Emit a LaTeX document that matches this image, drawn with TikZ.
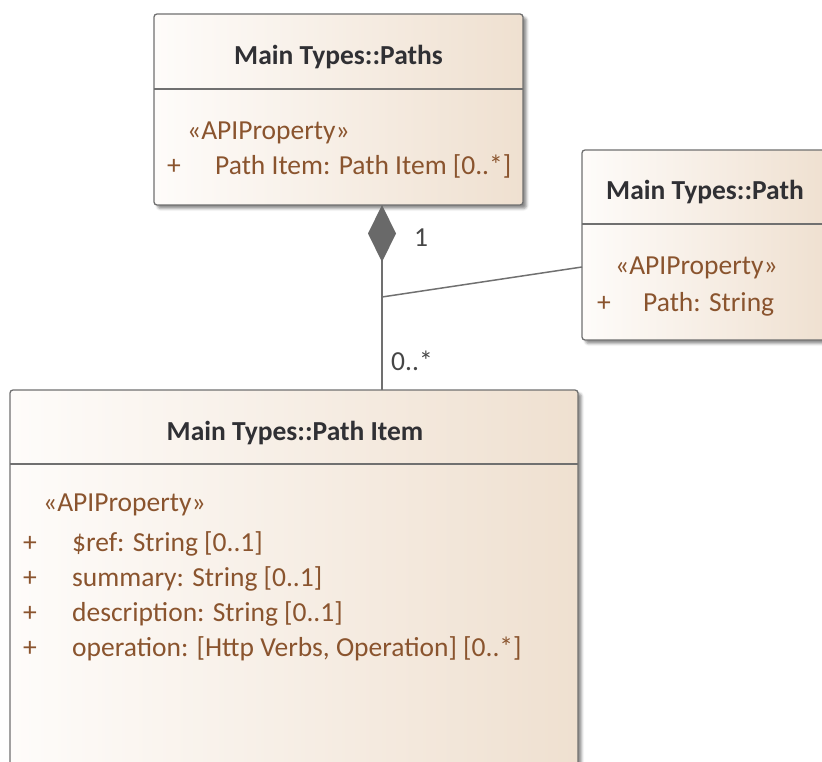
\documentclass[tikz,border=0pt]{standalone}
\usepackage{fontspec}
\setmainfont{Carlito}
\usetikzlibrary{arrows.meta,shadows.blur}

\definecolor{edgec}{RGB}{112,112,112}
\definecolor{fillL}{RGB}{254,252,250}
\definecolor{fillR}{RGB}{239,224,208}
\definecolor{titlec}{RGB}{48,48,52}
\definecolor{attrc}{RGB}{138,84,46}
\definecolor{multc}{RGB}{70,70,70}
\definecolor{diamc}{RGB}{105,105,105}

\tikzset{
  classbox/.style={draw=edgec, line width=1.3pt, rounded corners=3pt,
    left color=fillL, right color=fillR, anchor=north west,
    inner sep=0pt, outer sep=0pt,
    blur shadow={shadow xshift=3.5pt, shadow yshift=-3.5pt,
      shadow blur radius=2.5pt, shadow opacity=45}},
  classtitle/.style={font=\fontsize{27.5}{32}\selectfont\bfseries, text=titlec, inner sep=0pt},
  attr/.style={font=\fontsize{27.5}{32}\selectfont, text=attrc, inner sep=0pt, anchor=base west},
  divider/.style={draw=edgec, line width=1.3pt},
  conn/.style={draw=edgec, line width=1.5pt},
  mult/.style={font=\fontsize{27.5}{32}\selectfont, text=multc, inner sep=0pt}
}

\begin{document}
\begin{tikzpicture}[x=1pt,y=-1pt]
\useasboundingbox (0,0) rectangle (822,762);
\clip (0,0) rectangle (822,762);

% class boxes
\node[classbox, minimum width=369pt, minimum height=191pt] (paths) at (154,14) {};
\node[classbox, minimum width=246pt, minimum height=190pt] (path) at (582,150) {};
\node[classbox, minimum width=568pt, minimum height=385pt] (item) at (10,390) {};

% compartment dividers
\draw[divider] (paths.west |- 0,89) -- (paths.east |- 0,89);
\draw[divider] (path.west |- 0,224) -- (path.east |- 0,224);
\draw[divider] (item.west |- 0,464) -- (item.east |- 0,464);

% Main Types::Paths
\node[classtitle] (pathsT) at (338.5,57) {Main Types::Paths};
\node[attr] (pathsS) at (187,140) {«APIProperty»};
\node[attr] (pathsV1) at (167,175) {+};
\node[attr] (pathsA1) at (215,175) {Path Item: Path Item [0..*]};

% Main Types::Path
\node[classtitle] (pathT) at (705,192) {Main Types::Path};
\node[attr] (pathS) at (615,274) {«APIProperty»};
\node[attr] (pathV1) at (597,311) {+};
\node[attr] (pathA1) at (643,311) {Path: String};

% Main Types::Path Item
\node[classtitle] (itemT) at (295,433) {Main Types::Path Item};
\node[attr] (itemS) at (43,511) {«APIProperty»};
\node[attr] (itemV1) at (23,551) {+};
\node[attr] (itemA1) at (72,551) {\$ref: String [0..1]};
\node[attr] (itemV2) at (23,586) {+};
\node[attr] (itemA2) at (72,586) {summary: String [0..1]};
\node[attr] (itemV3) at (23,621) {+};
\node[attr] (itemA3) at (72,621) {description: String [0..1]};
\node[attr] (itemV4) at (23,656) {+};
\node[attr] (itemA4) at (72,656) {operation: [Http Verbs, Operation] [0..*]};

% composition Paths <>-- Path Item
\coordinate (jx) at (382,0);
\draw[conn, {Diamond[length=57pt,width=28pt,fill=diamc,color=diamc]}-]
  (paths.south -| jx) -- (item.north -| jx);
\node[mult] (m1) at (421,238) {1};
\node[mult] (m2) at (412,361) {0..*};

% association class link to Path
\coordinate (j1) at (382,297);
\draw[conn] (j1) -- (path.west |- 0,267);
\end{tikzpicture}
\end{document}
